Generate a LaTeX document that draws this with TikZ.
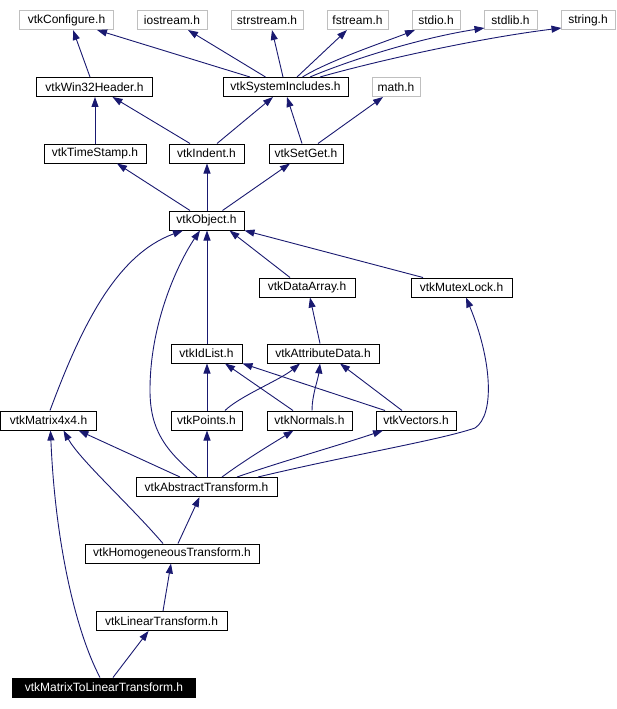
\documentclass[tikz,border=0pt]{standalone}
\usepackage{fontspec}
\setmainfont{Liberation Sans}
\usetikzlibrary{arrows.meta}
\definecolor{edgeblue}{HTML}{191970}
\definecolor{extgray}{HTML}{BFBFBF}
\begin{document}
\begin{tikzpicture}[x=1bp,y=-1bp,
  hdr/.style={draw=black, line width=1bp, minimum height=19bp, inner sep=0pt, fill=white,
    font=\fontsize{12bp}{14bp}\selectfont},
  ext/.style={hdr, draw=extgray},
  cur/.style={hdr, fill=black, text=white},
  dep/.style={draw=edgeblue, line width=0.9bp, -{Triangle[length=10bp,width=7bp]}}
]
\useasboundingbox (0,0) rectangle (617,709);
% row 1
\node[ext, minimum width=93bp] (conf) at (66.5,20) {vtkConfigure.h};
\node[ext, minimum width=70bp] (ios) at (172,20) {iostream.h};
\node[ext, minimum width=72bp] (strs) at (267,20) {strstream.h};
\node[ext, minimum width=61bp] (fstr) at (357.5,20) {fstream.h};
\node[ext, minimum width=48bp] (stdio) at (436,20) {stdio.h};
\node[ext, minimum width=53bp] (stdlib) at (510.5,20) {stdlib.h};
\node[ext, minimum width=54bp] (string) at (588,20) {string.h};
% row 2
\node[hdr, minimum width=115bp] (win32) at (94.5,87) {vtkWin32Header.h};
\node[hdr, minimum width=125bp] (sysinc) at (285.5,87) {vtkSystemIncludes.h};
\node[ext, minimum width=48bp] (math) at (396,87) {math.h};
% row 3
\node[hdr, minimum width=102bp] (tstamp) at (95,153.5) {vtkTimeStamp.h};
\node[hdr, minimum width=75bp] (indent) at (206.5,153.5) {vtkIndent.h};
\node[hdr, minimum width=74bp] (setget) at (306,153.5) {vtkSetGet.h};
% row 4
\node[hdr, minimum width=75bp] (object) at (206.5,220.5) {vtkObject.h};
% row 5
\node[hdr, minimum width=96bp] (darray) at (307,287.5) {vtkDataArray.h};
\node[hdr, minimum width=101bp] (mutex) at (461.5,287.5) {vtkMutexLock.h};
% row 6
\node[hdr, minimum width=71bp] (idlist) at (206.5,353.5) {vtkIdList.h};
\node[hdr, minimum width=112bp] (attr) at (323,353.5) {vtkAttributeData.h};
% row 7
\node[hdr, minimum width=96bp] (mat4) at (48.5,420.5) {vtkMatrix4x4.h};
\node[hdr, minimum width=71bp] (points) at (206.5,420.5) {vtkPoints.h};
\node[hdr, minimum width=85bp] (normals) at (309.5,420.5) {vtkNormals.h};
\node[hdr, minimum width=80bp] (vectors) at (416,420.5) {vtkVectors.h};
% rows 8-11
\node[hdr, minimum width=141bp] (abst) at (206.5,487) {vtkAbstractTransform.h};
\node[hdr, minimum width=174bp] (homog) at (172,553.5) {vtkHomogeneousTransform.h};
\node[hdr, minimum width=131bp] (lin) at (161.5,621) {vtkLinearTransform.h};
\node[cur, minimum width=182bp] (m2l) at (104,687.5) {vtkMatrixToLinearTransform.h};

% edges to row 1
\draw[dep] ([xshift=-4.5bp]win32.north) -- ([xshift=6.5bp]conf.south);
\draw[dep] ([xshift=-35.5bp]sysinc.north) -- ([xshift=30.5bp]conf.south);
\draw[dep] ([xshift=-20bp]sysinc.north) -- ([xshift=16bp]ios.south);
\draw[dep] ([xshift=-2.5bp]sysinc.north) -- ([xshift=5bp]strs.south);
\draw[dep] ([xshift=11.5bp]sysinc.north) -- ([xshift=-10.5bp]fstr.south);
\draw[dep] ([xshift=17bp]sysinc.north) .. controls (330,60) and (390,40) .. ([xshift=-21bp]stdio.south);
\draw[dep] ([xshift=24.5bp]sysinc.north) .. controls (350,60) and (420,38) .. ([xshift=1bp,yshift=2bp]stdlib.south west);
\draw[dep] ([xshift=34.5bp]sysinc.north) .. controls (380,60) and (480,38) .. ([xshift=1bp,yshift=2bp]string.south west);
% edges to row 2
\draw[dep] (tstamp.north) -- (tstamp.north |- win32.south);
\draw[dep] ([xshift=-16.5bp]indent.north) -- ([xshift=18bp]win32.south);
\draw[dep] ([xshift=10.5bp]indent.north) -- ([xshift=-12.5bp]sysinc.south);
\draw[dep] ([xshift=-4bp]setget.north) -- ([xshift=1.5bp]sysinc.south);
\draw[dep] ([xshift=12bp]setget.north) -- ([xshift=-13bp]math.south);
% edges to row 3
\draw[dep] ([xshift=-16.5bp]object.north) -- ([xshift=22bp]tstamp.south);
\draw[dep] ([xshift=0.5bp]object.north) -- ([xshift=0.5bp]indent.south);
\draw[dep] ([xshift=16bp]object.north) -- ([xshift=-16bp]setget.south);
% edges to vtkObject
\draw[dep] ([xshift=-17bp]darray.north) -- ([xshift=23bp]object.south);
\draw[dep] ([xshift=-38.5bp]mutex.north) -- (object.south east);
\draw[dep] ([xshift=0.5bp]idlist.north) -- ([xshift=0.5bp]object.south);
\draw[dep] ([xshift=1.5bp]mat4.north) .. controls (80,330) and (115,255) .. ([xshift=-23.5bp]object.south);
\draw[dep] ([xshift=-9.5bp]abst.north) .. controls (165,450) and (150,430) .. (150,390)
  .. controls (150,320) and (180,260) .. ([xshift=-6.5bp]object.south);
% edges to row 5/6
\draw[dep] ([xshift=-3bp]attr.north) -- ([xshift=3bp]darray.south);
\draw[dep] ([xshift=0.5bp]points.north) -- ([xshift=0.5bp]idlist.south);
\draw[dep] ([xshift=-16.5bp]normals.north) -- ([xshift=18.5bp]idlist.south);
\draw[dep] ([xshift=-31bp]vectors.north) -- (idlist.south east);
\draw[dep] ([xshift=18.5bp]points.north) .. controls (240,396) and (280,380) .. ([xshift=-23bp]attr.south);
\draw[dep] ([xshift=2.5bp]normals.north) .. controls (312,395) and (318,380) .. ([xshift=-3bp]attr.south);
\draw[dep] ([xshift=-14bp]vectors.north) -- ([xshift=17bp]attr.south);
% edges to row 7
\draw[dep] ([xshift=-26.5bp]abst.north) -- ([xshift=30bp]mat4.south);
\draw[dep] ([xshift=-9bp]homog.north) .. controls (130,505) and (80,460) .. ([xshift=15bp]mat4.south);
\draw[dep] ([xshift=-4bp]m2l.north) .. controls (75,630) and (55,540) .. ([xshift=2bp]mat4.south);
\draw[dep] ([xshift=0.5bp]abst.north) -- ([xshift=0.5bp]points.south);
\draw[dep] ([xshift=15.5bp]abst.north) .. controls (245,460) and (270,445) .. ([xshift=-16bp]normals.south);
\draw[dep] ([xshift=30.5bp]abst.north) .. controls (280,462) and (340,445) .. ([xshift=-33bp]vectors.south);
\draw[dep] ([xshift=51.5bp]abst.north) .. controls (350,455) and (440,440) .. (475,428)
  .. controls (495,415) and (492,360) .. ([xshift=4.5bp]mutex.south);
% lower chain
\draw[dep] ([xshift=6bp]homog.north) -- ([xshift=-7bp]abst.south);
\draw[dep] ([xshift=1.5bp]lin.north) -- ([xshift=-1bp]homog.south);
\draw[dep] ([xshift=9bp]m2l.north) -- ([xshift=-13bp]lin.south);
\end{tikzpicture}
\end{document}
